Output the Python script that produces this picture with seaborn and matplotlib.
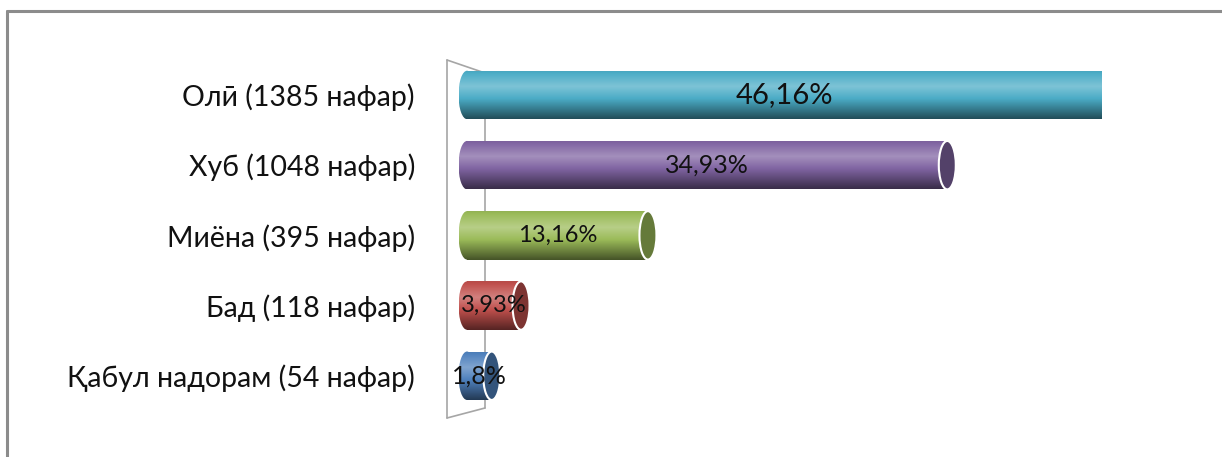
import numpy as np
import pandas as pd
import matplotlib
matplotlib.use("Agg")
import matplotlib.pyplot as plt
import matplotlib.colors as mcolors
from matplotlib.patches import Ellipse
from matplotlib.lines import Line2D
import seaborn as sns

# ---- data ----
categories = ["Олӣ (1385 нафар)", "Хуб (1048 нафар)", "Миёна (395 нафар)",
              "Бад (118 нафар)", "Қабул надорам (54 нафар)"]
percent = [46.16, 34.93, 13.16, 3.93, 1.8]
value_labels = ["46,16%", "34,93%", "13,16%", "3,93%", "1,8%"]
bar_colors = ["#4BACC6", "#8064A2", "#9BBB59", "#C0504D", "#4F81BD"]
label_sizes = [21, 18, 17, 17, 18]

sns.set_theme(style="white")
plt.rcParams["font.family"] = ["Lato", "Noto Sans", "DejaVu Sans"]

df = pd.DataFrame({"cat": categories, "pct": percent})

W, H = 1222, 457
fig = plt.figure(figsize=(W / 100, H / 100), dpi=100)
xmin, xmax = -0.8, 48.0
ppu_target = 13.75
zero_px = 467
ax_left_px = zero_px + xmin * ppu_target
ax_w_px = (xmax - xmin) * ppu_target
ax = fig.add_axes([ax_left_px / W, 0.101, ax_w_px / W, 0.768])
ax.patch.set_alpha(0)

sns.barplot(data=df, x="pct", y="cat", hue="cat", palette=bar_colors,
            orient="h", width=0.69, legend=False, ax=ax, saturation=1)

ax.set_xlim(xmin, xmax)
ax.set_ylim(4.5, -0.5)

def shade(c, f):
    r = np.array(mcolors.to_rgb(c))
    if f >= 0:
        return r + (1 - r) * f
    return r * (1 + f)

# cylinder gradient
stops = np.array([0.0, 0.33, 0.6, 1.0])
facs = np.array([-0.05, 0.28, -0.02, -0.55])
ys = np.linspace(0, 1, 64)
ppu = ax.transData.transform((1, 0))[0] - ax.transData.transform((0, 0))[0]
cap_w = 17 / ppu
vmax = max(percent)
for p, col, val in zip(ax.patches, bar_colors, percent):
    x0, y0 = p.get_x(), p.get_y()
    w, h = p.get_width(), p.get_height()
    f = np.interp(ys, stops, facs)
    grad = np.array([shade(col, fi) for fi in f])[:, None, :]
    p.set_edgecolor("none")
    le = Ellipse((x0, y0 + h / 2), cap_w, h, facecolor="none", edgecolor="none")
    ax.add_patch(le)
    for clip in (p, le):
        im = ax.imshow(grad, extent=[x0 - cap_w / 2, x0 + w, y0 + h, y0],
                       aspect="auto", zorder=2, interpolation="bilinear")
        im.set_clip_path(clip)
    if val < vmax:
        cap = Ellipse((x0 + w, y0 + h / 2), cap_w, h, facecolor=shade(col, -0.35),
                      edgecolor="white", lw=1.5, zorder=3)
        ax.add_patch(cap)

ax.set_xlim(xmin, xmax)
ax.set_ylim(4.5, -0.5)

for p, txt, fs in zip(ax.patches, value_labels, label_sizes):
    ax.text(p.get_x() + p.get_width() / 2, p.get_y() + p.get_height() / 2, txt,
            ha="center", va="center", fontsize=fs, color="#111111", zorder=5)

ax.set_xlabel("")
ax.set_ylabel("")
ax.set_xticks([])
pad_pt = (ax_left_px - 415) * 72 / 100
ax.tick_params(axis="y", length=0, pad=pad_pt, labelsize=20.5, colors="#111111")
for s in ax.spines.values():
    s.set_visible(False)

# back wall outline (3D)
wall = dict(color="#a6a6a6", lw=1.2, transform=fig.transFigure, zorder=0)
xf = 447 / W
xb = 485 / W
yt_f = 1 - 60 / H
yt_b = 1 - 73 / H
yb_f = 1 - 418 / H
yb_b = 1 - 408 / H
fig.add_artist(Line2D([xf, xf], [yb_f, yt_f], **wall))
fig.add_artist(Line2D([xf, xb], [yt_f, yt_b], **wall))
fig.add_artist(Line2D([xb, xb], [yb_b, yt_b], **wall))
fig.add_artist(Line2D([xf, xb], [yb_f, yb_b], **wall))

# outer frame
frame = dict(color="#8c8c8c", lw=2.2, transform=fig.transFigure)
fig.add_artist(Line2D([7 / W, 7 / W], [0, 1 - 11 / H], **frame))
fig.add_artist(Line2D([7 / W, 1], [1 - 11 / H, 1 - 11 / H], **frame))

fig.savefig("out.png", dpi=100)
